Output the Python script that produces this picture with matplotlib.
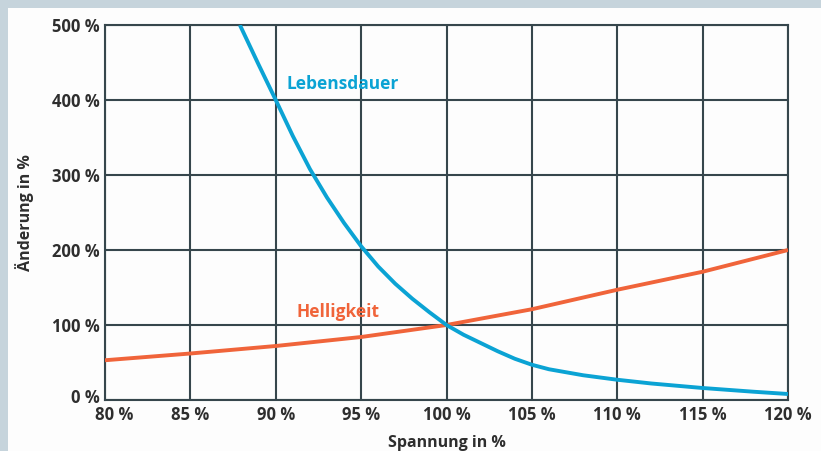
import matplotlib.pyplot as plt
import matplotlib.transforms as mtransforms
from matplotlib.patches import Rectangle

# Werte (Spannung in %, Aenderung in %)
spannung_leben = [87.9, 89, 90, 91, 92, 93, 94, 95, 96, 97, 98, 99, 100,
                  101, 102, 103, 104, 105, 106, 107, 108, 110, 112, 115, 118, 120]
lebensdauer = [500, 447, 400, 352, 308, 270, 236, 205, 178, 155, 135, 117, 100,
               87, 76, 65, 55, 47, 41, 37, 33, 27, 22, 16, 11, 8]

spannung_hell = [80, 85, 90, 95, 100, 105, 110, 115, 120]
helligkeit = [53, 62, 72, 84, 100, 121, 147, 171, 200]

x_ticks = [80, 85, 90, 95, 100, 105, 110, 115, 120]
y_ticks = [0, 100, 200, 300, 400, 500]

blue = '#0ba3d4'
orange = '#f0643a'
grid_color = '#36464c'
text_color = '#2e2e2e'

plt.rcParams['font.family'] = ['Open Sans', 'DejaVu Sans']

fig = plt.figure(figsize=(8.21, 4.51), dpi=100)
fig.patch.set_facecolor('#c6d4dc')
# weisses Feld
fig.patches.append(Rectangle((8 / 821, 0), 1, 1 - 8 / 451, transform=fig.transFigure,
                             facecolor='#fdfdfd', edgecolor='none', zorder=-5))

ax = fig.add_axes([105 / 821, 1 - 400 / 451, 683 / 821, 375 / 451])
ax.set_facecolor('#fdfdfd')

ax.plot(spannung_hell, helligkeit, color=orange, lw=2.8, zorder=3, solid_capstyle='butt')
ax.plot(spannung_leben, lebensdauer, color=blue, lw=2.8, zorder=3, solid_capstyle='butt')

ax.set_xlim(80, 120)
ax.set_ylim(0, 500)
ax.set_xticks(x_ticks)
ax.set_yticks(y_ticks)
ax.set_xticklabels([f'{v} %' for v in x_ticks])
ax.set_yticklabels([f'{v} %' for v in y_ticks])
ax.grid(True, color=grid_color, lw=1.5, zorder=1)
ax.set_axisbelow(True)
for s in ax.spines.values():
    s.set_color(grid_color)
    s.set_linewidth(1.5)
ax.tick_params(length=0, pad=4, labelsize=12, labelcolor=text_color)
for lab in ax.get_xticklabels() + ax.get_yticklabels():
    lab.set_fontweight('bold')

# erste Beschriftungen etwas verschieben, wie im Original
first_x = ax.get_xticklabels()[0]
first_x.set_transform(first_x.get_transform() + mtransforms.ScaledTranslation(9 / 100, 0, fig.dpi_scale_trans))
first_y = ax.get_yticklabels()[0]
first_y.set_transform(first_y.get_transform() + mtransforms.ScaledTranslation(0, 4 / 100, fig.dpi_scale_trans))

ax.set_xlabel('Spannung in %', fontsize=11.5, fontweight='bold', color=text_color, labelpad=8)
ax.set_ylabel('Änderung in %', fontsize=11.5, fontweight='bold', color=text_color, labelpad=13)

ax.text(90.65, 421, 'Lebensdauer', color=blue, fontsize=12.5, fontweight='bold',
        va='center', ha='left', zorder=2)
ax.text(91.2, 117, 'Helligkeit', color=orange, fontsize=12.5, fontweight='bold',
        va='center', ha='left', zorder=2)

fig.savefig('out.png', dpi=100, facecolor=fig.get_facecolor())
